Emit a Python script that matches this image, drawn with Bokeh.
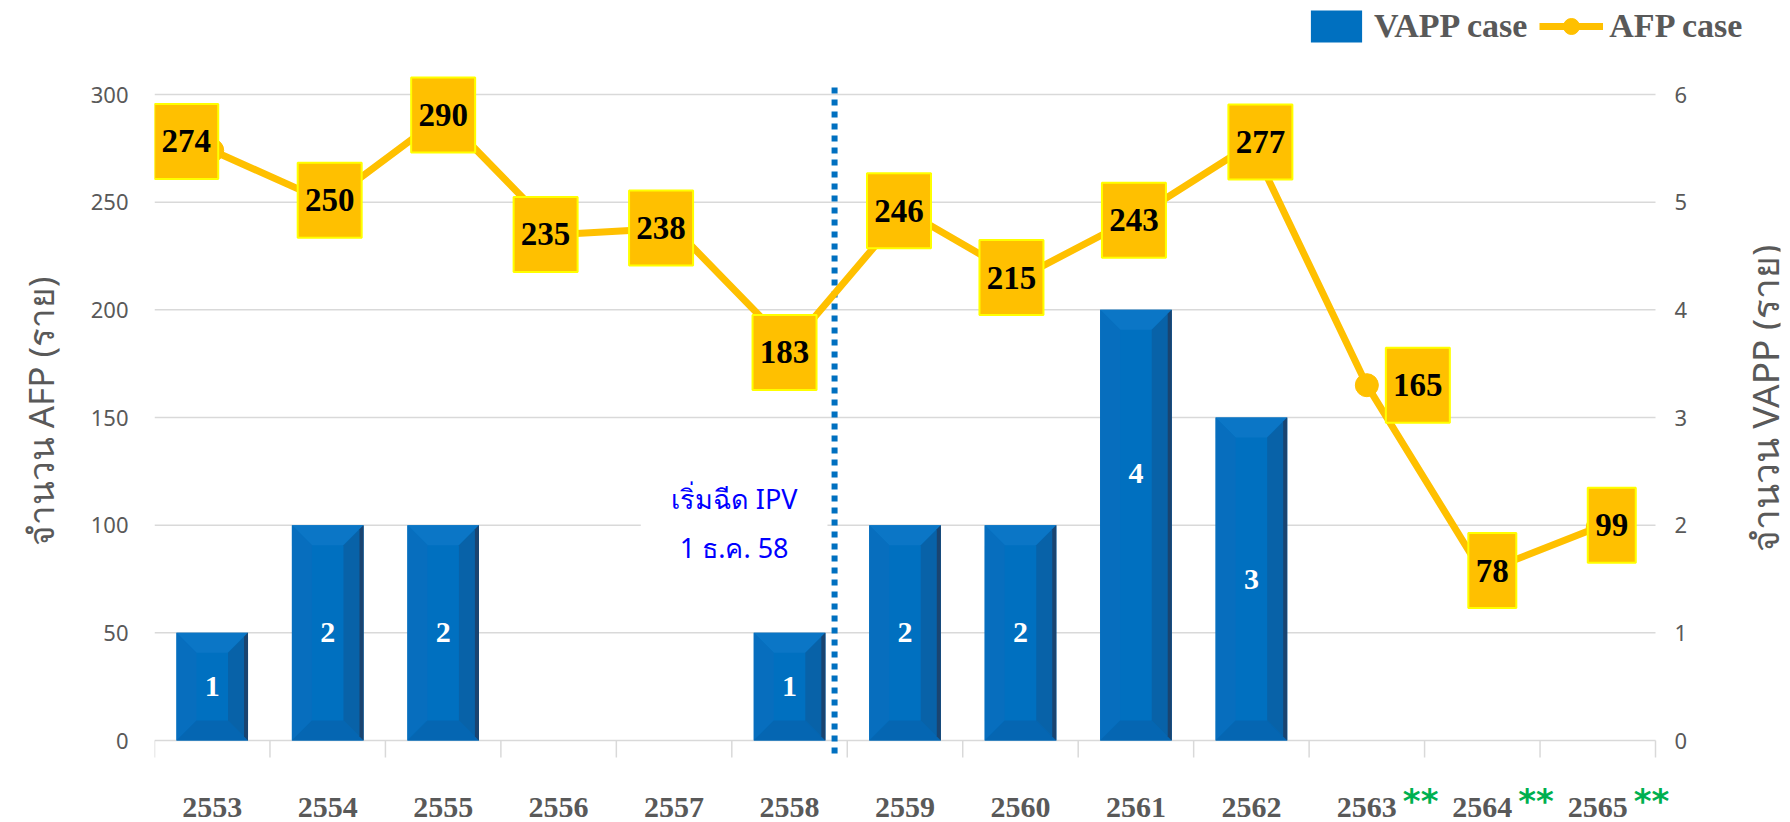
import math
import numpy as np
from bokeh.plotting import figure
from bokeh.models import (Range1d, LinearAxis, FixedTicker, Label, Legend,
                          LegendItem, ColumnDataSource)
from bokeh.core.properties import value
from bokeh.embed import file_html
from bokeh.resources import INLINE

# ---------------- data ----------------
years = ["2553", "2554", "2555", "2556", "2557", "2558", "2559",
         "2560", "2561", "2562", "2563", "2564", "2565"]
provisional = [False] * 10 + [True] * 3          # years marked "**"
afp_cases = [274, 250, 290, 235, 238, 183, 246, 215, 243, 277, 165, 78, 99]
vapp_cases = [1, 2, 2, 0, 0, 1, 2, 2, 4, 3, 0, 0, 0]
afp_ticks = [0, 50, 100, 150, 200, 250, 300]
vapp_ticks = [0, 1, 2, 3, 4, 5, 6]
ipv_note = "เริ่มฉีด IPV\n1 ธ.ค. 58"
left_title = "จำนวน AFP (ราย)"
right_title = "จำนวน VAPP (ราย)"

# label nudges (px, +x right, +y down) - style only
lab_dx = [-26, 2, 0, -13, -13, -5, -6, -9, -2, 9, 51, 10, 14]
lab_dy = [-9, -2, -1, 0, 0, 6, 0, 0, 3, -2, 0, -2, -2]
bar_lab_dy = [0, 0, 0, 0, 0, 0, 0, 0, -52, 0, 0, 0, 0]

# ---------------- layout ----------------
W, H = 1790, 822
ML = 154              # plot-area left edge
PR = 1655             # plot-area (gridline) right edge
FR = 1780             # drawing frame right edge (room for legend / notes)
BASE = 740            # pixel row of value 0
PX_Y = 646 / 300      # px per AFP unit
n = len(years)
PX_X = (PR - ML) / n
X_END = -0.5 + (FR - ML) / PX_X
Y1 = BASE / PX_Y
Y0 = -(H - BASE) / PX_Y
RATIO = 50  # afp units per vapp unit

def px_to_x(px):
    return (px - ML) / PX_X - 0.5

def px_to_y(py):
    return (BASE - py) / PX_Y

GRAY = "#595959"
BLUE = "#0070C0"
GOLD = "#FFC000"

p = figure(width=W, height=H, output_backend="svg", toolbar_location=None,
           x_range=Range1d(-0.5, X_END), y_range=Range1d(Y0, Y1),
           x_axis_location=None,
           min_border_left=ML, min_border_right=W - FR,
           min_border_top=0, min_border_bottom=0)
p.extra_y_ranges = {"vapp": Range1d(Y0 / RATIO, Y1 / RATIO)}
p.outline_line_color = None
p.background_fill_color = "white"
p.border_fill_color = "white"
p.grid.visible = False

# horizontal gridlines across the plot area
p.segment(x0=[-0.5] * len(afp_ticks), x1=[n - 0.5] * len(afp_ticks),
          y0=afp_ticks, y1=afp_ticks, line_color="#D9D9D9", line_width=1.5,
          level="underlay")

# left axis
ax = p.yaxis[0]
ax.ticker = FixedTicker(ticks=afp_ticks)
ax.axis_line_color = None
ax.major_tick_line_color = None
ax.minor_tick_line_color = None
ax.major_label_text_font = "Noto Sans"
ax.major_label_text_font_size = "22px"
ax.major_label_text_color = GRAY
ax.major_label_standoff = 20
ax.axis_label = left_title
ax.axis_label_text_font = "Noto Sans"
ax.axis_label_text_font_style = "normal"
ax.axis_label_text_font_size = "35px"
ax.axis_label_text_color = GRAY
ax.axis_label_standoff = 24

# right axis (labels pulled back to the plot-area edge)
rax = LinearAxis(y_range_name="vapp", ticker=FixedTicker(ticks=vapp_ticks))
rax.axis_line_color = None
rax.major_tick_line_color = None
rax.minor_tick_line_color = None
rax.major_label_text_font = "Noto Sans"
rax.major_label_text_font_size = "22px"
rax.major_label_text_color = GRAY
rax.major_label_standoff = -(FR - 1676) - 8
p.add_layout(rax, "right")

# right axis title
p.add_layout(Label(x=px_to_x(1764), y=px_to_y(398), text=right_title,
                   angle=math.pi / 2, text_align="center",
                   text_baseline="middle", text_color=GRAY,
                   text_font="Noto Sans", text_font_size="37px"))

xs = np.arange(n)

# category tick marks below the baseline
tick_x = np.arange(n + 1) - 0.5
p.segment(x0=tick_x, y0=0, x1=tick_x, y1=-17 / PX_Y, line_color="#D9D9D9",
          line_width=1.5)

# ---------------- bars (VAPP) ----------------
bw = 0.62
vsrc = ColumnDataSource(dict(x=xs, top=vapp_cases))
bars = p.vbar(x="x", top="top", bottom=0, width=bw, source=vsrc,
              fill_color=BLUE, line_color=None, y_range_name="vapp")

bx = 20 / PX_X
by = 20 / (PX_Y * RATIO)
edge = 4 / PX_X
top_f, right_f, bot_f, left_f, edge_f = [], [], [], [], []
for xi, v in zip(xs, vapp_cases):
    if v <= 0:
        continue
    L, R, T, B = xi - bw / 2, xi + bw / 2, v, 0
    top_f.append(([L, R, R - bx, L + bx], [T, T, T - by, T - by]))
    right_f.append(([R, R, R - bx, R - bx], [T, B, B + by, T - by]))
    bot_f.append(([L, R, R - bx, L + bx], [B, B, B + by, B + by]))
    left_f.append(([L, L, L + bx, L + bx], [T, B, B + by, T - by]))
    edge_f.append(([R - edge, R, R, R - edge],
                   [T - by * edge / bx, T, B, B + by * edge / bx]))

def facets(lst, color):
    p.patches(xs=[a for a, b in lst], ys=[b for a, b in lst], fill_color=color,
              line_color=None, y_range_name="vapp")

facets(top_f, "#0B76C6")
facets(left_f, "#076EBE")
facets(bot_f, "#0566B2")
facets(right_f, "#0862A8")
facets(edge_f, "#1A4470")

vl = [str(v) if v > 0 else "" for v in vapp_cases]
vy = [v / 2 - d / (PX_Y * RATIO) for v, d in zip(vapp_cases, bar_lab_dy)]
p.text(x=xs, y=vy, text=vl, y_range_name="vapp",
       text_align="center", text_baseline="middle", text_color="white",
       text_font=value("Liberation Serif"), text_font_style="bold",
       text_font_size="30px")

# ---------------- IPV marker line & note ----------------
ipv_x = 5.39
p.line(x=[ipv_x, ipv_x], y=[-6, 304], line_color=BLUE, line_width=6,
       line_dash="6 6")
p.add_layout(Label(x=4.52, y=101, text=ipv_note, text_align="center",
                   text_baseline="middle", text_color="#0000FF",
                   text_font="Noto Sans", text_font_size="27px",
                   text_line_height=1.3,
                   background_fill_color="white", padding=30))

# ---------------- AFP line ----------------
line_r = p.line(x=xs, y=afp_cases, line_color=GOLD, line_width=7,
                line_join="round")
mark_r = p.scatter(x=xs, y=afp_cases, size=23, marker="circle",
                   fill_color=GOLD, line_color=GOLD)

lx = [x + dx / PX_X for x, dx in zip(xs, lab_dx)]
ly = [y - dy / PX_Y for y, dy in zip(afp_cases, lab_dy)]
lw = [16 * len(str(v)) + 16 for v in afp_cases]
lsrc = ColumnDataSource(dict(x=lx, y=ly, w=lw, t=[str(v) for v in afp_cases]))
p.rect(x="x", y="y", width="w", height=75, width_units="screen",
       height_units="screen", source=lsrc, fill_color=GOLD,
       line_color="#FFFF00", line_width=2)
p.text(x="x", y="y", text="t", source=lsrc, text_align="center",
       text_baseline="middle", text_color="black",
       text_font=value("Liberation Serif"), text_font_style="bold",
       text_font_size="33px")

# ---------------- x labels ----------------
y_year = px_to_y(807)
y_star = px_to_y(800)
p.text(x=xs, y=[y_year] * n, text=years, text_align="center",
       text_baseline="middle", text_color=GRAY,
       text_font=value("Liberation Serif"), text_font_style="bold",
       text_font_size="30px")
star_x = [x for x, s in zip(xs, provisional) if s]
p.text(x=star_x, y=[y_star] * len(star_x), text=["**"] * len(star_x),
       x_offset=36, text_align="left", text_baseline="middle",
       text_color="#00B050", text_font=value("DejaVu Sans"),
       text_font_style="bold", text_font_size="34px")

# ---------------- legend ----------------
legend = Legend(items=[LegendItem(label="VAPP case", renderers=[bars]),
                       LegendItem(label="AFP case", renderers=[line_r, mark_r])],
                orientation="horizontal", location=(1150, 776),
                glyph_width=64, glyph_height=40, spacing=12, padding=0,
                margin=0, label_standoff=6, border_line_color=None,
                background_fill_alpha=0,
                label_text_font="Liberation Serif",
                label_text_font_style="bold", label_text_font_size="34px",
                label_text_color=GRAY)
p.add_layout(legend)

open("out.html", "w").write(file_html(p, INLINE))
